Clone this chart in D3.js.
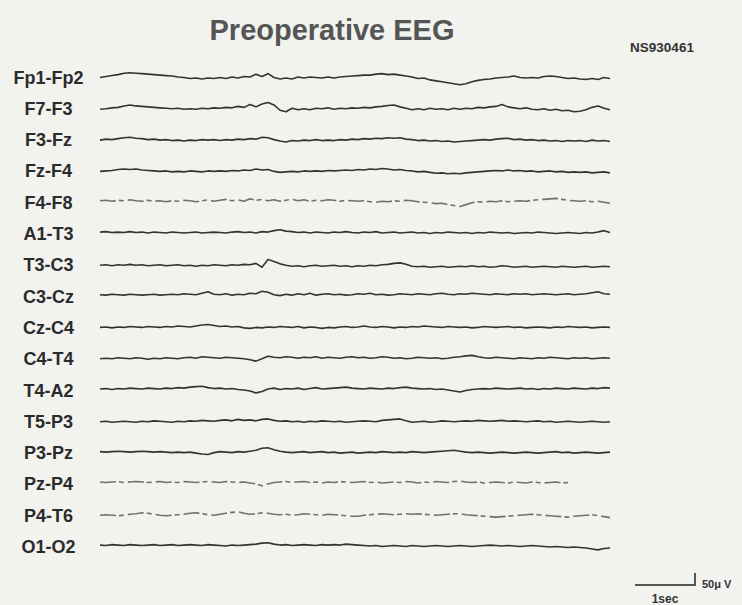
<!DOCTYPE html>
<html>
<head>
<meta charset="utf-8">
<script src="https://cdn.jsdelivr.net/npm/d3@7"></script>
<style>
  body { margin: 0; background: #f2f2ef; }
  svg { display: block; }
</style>
</head>
<body>
<div id="chart"></div>
<script>
// channel labels, top to bottom
var channels = ["Fp1-Fp2", "F7-F3", "F3-Fz", "Fz-F4", "F4-F8", "A1-T3", "T3-C3", "C3-Cz",
                "Cz-C4", "C4-T4", "T4-A2", "T5-P3", "P3-Pz", "Pz-P4", "P4-T6", "O1-O2"];

// samples every 0.1 s, values in microvolts (up = positive)
var sampleStep = 0.1;
var duration = 8.5;

var fp1fp2 = [0,4,8,12,18,20,18,16,14,12, 10,8,6,2,0,-4,-2,-6,-2,-4, 0,-4,2,-2,4,2,14,4,16,0,
  -6,-2,-6,2,-2,2,0,-2,2,-2, 2,4,6,8,10,10,14,16,12,14, 10,6,2,-4,-2,-10,-14,-18,-22,-26,
  -30,-26,-18,-12,-8,-6,-2,0,2,6, 0,-2,0,-2,4,6,4,0,-4,-2, -6,-8,-4,-8,0,-4];
var f7f3 = [-2,0,4,6,12,16,12,10,8,6, 4,2,0,2,-2,0,-2,2,0,4, 2,6,4,10,6,18,8,20,26,16,
  -6,-12,2,-4,0,-4,2,0,4,-2, 2,0,4,2,6,4,8,10,14,16, 8,2,-4,0,-4,2,-2,0,-4,2,
  -2,2,0,6,4,8,10,18,8,4, 0,4,-2,-4,0,-6,-2,-8,-6,-12, -10,-4,6,12,2,-4];
var f3fz = [0,4,2,6,10,12,8,6,2,4, 0,2,-2,0,-4,0,-2,2,0,2, -2,2,0,4,2,6,4,12,10,2,
  -4,-8,-2,-4,0,-2,2,-2,0,-2, 2,0,4,2,6,4,8,6,10,8, 10,4,2,-2,0,-4,-2,-6,-4,-8,
  -6,-4,-2,0,2,0,4,6,8,2, 4,0,2,-2,0,-4,-2,-6,-2,-4, -2,-6,0,-4,-2,-6];
var fzf4 = [0,2,4,8,10,8,10,6,4,2, 0,2,-2,0,-2,2,0,-2,2,0, 2,0,4,2,6,4,10,6,8,0,
  -4,-2,0,-2,2,0,2,0,4,2, 4,6,4,8,6,10,8,12,10,6, 8,4,2,-2,0,-4,-8,-6,-10,-8,
  -10,-6,-4,-2,0,2,4,2,6,2, 4,0,2,-2,0,2,-2,0,-4,-2, -4,-2,-6,-4,-2,-6];
var f4f8 = [8,10,6,10,8,12,8,6,10,6, 8,4,8,6,10,8,4,8,12,6, 10,14,8,12,6,16,10,14,8,12,
  6,10,14,8,12,6,10,8,12,10, 6,10,8,6,8,4,2,6,4,8, 6,10,8,4,2,0,-4,-2,-8,-12,
  -16,-8,0,4,2,6,4,8,4,6, 8,6,10,12,14,16,18,14,10,8, 6,8,4,6,2,-2];
var a1t3 = [8,10,6,8,6,10,6,8,4,8, 6,4,8,6,4,6,8,4,6,8, 6,4,8,10,6,8,4,10,8,14,
  18,12,10,6,8,4,8,6,4,8, 6,10,6,4,8,6,10,4,6,8, 4,6,8,4,6,2,6,4,8,6,
  4,6,2,6,4,8,6,4,6,2, 4,6,4,8,6,4,2,4,6,4, 2,6,4,8,14,6];
var t3c3 = [0,2,-2,2,0,4,0,2,-2,0, 2,-2,0,2,-2,0,-4,0,-2,2, 0,-2,2,0,4,2,8,-8,24,16,
  6,0,-4,-2,-6,-2,0,-4,-2,0, -4,-2,-6,-2,-4,0,-2,2,4,8, 10,4,-4,-6,-4,-8,-6,-4,-8,-6,
  -4,-6,-2,-6,-4,-8,-6,-2,-4,-8, -6,-4,-8,-6,-4,-6,-8,-4,-6,-8, -6,-4,-8,-6,-4,-6];
var c3cz = [8,6,10,8,6,10,8,6,8,10, 6,8,10,8,12,10,8,14,20,10, 8,12,6,10,8,14,12,22,18,8,
  4,10,6,12,8,14,6,10,12,8, 10,6,8,12,10,14,8,10,6,8, 12,10,8,12,10,8,12,14,10,8,
  12,10,14,12,10,8,12,10,8,12, 10,12,8,10,12,10,8,10,12,8, 10,12,16,20,12,10];
var czc4 = [2,4,0,4,2,6,4,2,6,4, 2,6,4,8,6,4,8,12,14,10, 6,8,4,6,0,-2,2,0,4,2,
  6,4,2,6,0,4,2,-2,2,0, 4,6,2,4,8,4,2,6,4,0, 4,2,6,4,8,6,4,2,6,4,
  2,4,0,2,6,4,2,4,6,2, 4,0,2,4,2,0,4,2,6,4, 2,4,0,2,4,2];
var c4t4 = [2,4,2,6,4,2,6,4,0,4, 2,6,4,2,6,8,4,10,8,6, 4,8,6,4,2,-2,-8,2,12,8,
  6,10,8,4,8,6,10,4,8,6, 4,8,10,6,8,4,6,10,8,4, 6,2,4,8,6,4,6,2,4,8,
  10,14,16,10,6,4,8,6,4,2, 6,4,2,6,4,8,6,4,2,6, 4,6,2,4,6,4];
var t4a2 = [6,8,4,8,6,10,8,6,10,8, 6,10,8,12,10,14,16,18,12,8, 10,6,8,4,2,-2,-10,-4,6,10,
  4,8,6,10,4,8,12,6,8,10, 12,14,10,8,6,10,8,6,10,8, 12,14,10,8,6,8,4,6,2,-2,
  -6,0,4,6,8,6,10,8,6,8, 10,6,8,4,8,6,10,8,6,10, 8,6,10,8,12,10];
var t5p3 = [0,2,-2,0,2,0,-2,2,0,4, 2,0,-2,2,0,4,2,6,4,2, 6,8,4,10,6,8,4,10,12,6,
  2,4,0,2,-2,2,0,4,2,0, 2,-2,0,2,4,2,0,6,8,10, 12,4,-2,0,2,-2,0,4,2,0,
  2,4,2,6,4,2,4,6,2,4, 2,0,2,4,0,2,-2,0,2,0, -2,0,2,0,-2,0];
var p3pz = [6,4,6,8,6,4,6,8,6,4, 6,4,2,4,2,4,0,-4,-6,2, 6,4,2,6,4,8,12,20,22,14,
  8,4,2,4,6,2,4,6,2,4, 0,2,4,0,2,4,2,6,4,2, 4,2,6,4,2,4,6,8,10,12,
  8,4,2,4,2,0,2,4,2,0, 2,4,2,0,2,4,6,2,4,0, 2,4,2,0,2,4];
var pzp4 = [10,8,10,12,8,10,12,10,8,10, 12,8,10,8,12,10,8,10,12,10, 8,12,10,8,10,6,2,-6,2,8,
  10,12,8,10,12,8,10,6,10,8, 12,10,8,10,12,8,10,6,8,10, 8,12,10,6,10,8,12,10,8,12,
  14,10,8,10,6,8,10,8,6,10, 8,6,10,8,6,8,10,6,8,null, null,null,null,null,null,null];
var p4t6 = [2,4,2,0,2,6,8,12,10,6, 2,0,2,4,6,10,12,8,4,2, 6,10,14,16,10,6,8,12,10,6,
  4,6,2,4,8,6,4,2,6,4, 2,0,-2,-2,2,4,6,8,6,4, 6,8,6,8,6,4,2,4,6,8,
  8,4,2,0,-2,-4,-6,-4,-2,0, 2,4,6,4,2,0,-2,-4,-6,-2, 0,2,4,0,-4,-8];
var o1o2 = [8,6,10,8,6,10,8,6,8,10, 6,8,10,6,8,10,8,6,10,8, 6,4,8,6,8,10,12,16,18,12,
  8,10,6,8,10,8,6,10,8,10, 8,12,10,8,6,4,6,2,4,6, 4,2,6,4,2,4,6,4,2,4,
  6,4,2,4,6,8,6,4,6,4, 2,4,6,4,2,0,2,0,-2,0, -2,-4,-8,-12,-6,-4];

var traces = [fp1fp2, f7f3, f3fz, fzf4, f4f8, a1t3, t3c3, c3cz,
              czc4, c4t4, t4a2, t5p3, p3pz, pzp4, p4t6, o1o2];

// channels printed faintly in the original
var faded = ["F4-F8", "Pz-P4", "P4-T6"];

var width = 742;
var height = 605;

var svg = d3.select("#chart").append("svg")
    .attr("width", width)
    .attr("height", height);

svg.append("rect").attr("width", width).attr("height", height).attr("fill", "#f2f2ef");

var xScale = d3.scaleLinear().domain([0, duration]).range([100, 610]);
var rowScale = d3.scalePoint().domain(channels).range([77.5, 547]);
var ampScale = d3.scaleLinear().domain([0, 50]).range([0, -12]);   // 50 uV = 12 px

var line = d3.line()
    .defined(d => d != null)
    .x((d, i) => xScale(i * sampleStep))
    .y(d => ampScale(d));

svg.append("text")
    .attr("x", 332).attr("y", 40)
    .attr("text-anchor", "middle")
    .style("font-family", "'Liberation Sans', Arial, sans-serif")
    .style("font-weight", "bold")
    .style("font-size", "29px")
    .attr("fill", "#555")
    .text("Preoperative EEG");

svg.append("text")
    .attr("x", 662).attr("y", 52)
    .attr("text-anchor", "middle")
    .style("font-family", "'Liberation Sans', Arial, sans-serif")
    .style("font-weight", "bold")
    .style("font-size", "13.5px")
    .attr("fill", "#333")
    .text("NS930461");

var rows = svg.selectAll(".row")
    .data(channels)
    .enter().append("g")
    .attr("class", "row")
    .attr("transform", d => "translate(0," + rowScale(d) + ")");

rows.append("text")
    .attr("x", 48.5).attr("y", 6)
    .attr("text-anchor", "middle")
    .style("font-family", "'Liberation Sans', Arial, sans-serif")
    .style("font-weight", "bold")
    .style("font-size", "18px")
    .attr("fill", "#2b2b2b")
    .text(d => d);

rows.append("path")
    .attr("d", (d, i) => line(traces[i]))
    .attr("fill", "none")
    .attr("stroke", d => faded.includes(d) ? "#707070" : "#333")
    .attr("stroke-width", 1.6)
    .attr("stroke-linejoin", "round")
    .attr("stroke-dasharray", d => faded.includes(d) ? "16,3,5,4" : null);

// calibration bar: 1 sec by 50 uV, left end at x = 635
var bar = svg.append("g").attr("transform", "translate(" + (635 - xScale(0)) + ",585)");
bar.append("path")
    .attr("d", "M" + xScale(0) + ",0H" + xScale(1) + "V" + ampScale(50))
    .attr("fill", "none")
    .attr("stroke", "#222")
    .attr("stroke-width", 1.5);
bar.append("text")
    .attr("x", xScale(1) + 7).attr("y", 3)
    .style("font-family", "'Liberation Sans', Arial, sans-serif")
    .style("font-weight", "bold")
    .style("font-size", "11px")
    .attr("fill", "#333")
    .text("50\u03bc V");
bar.append("text")
    .attr("x", xScale(0.5)).attr("y", 18)
    .attr("text-anchor", "middle")
    .style("font-family", "'Liberation Sans', Arial, sans-serif")
    .style("font-weight", "bold")
    .style("font-size", "12px")
    .attr("fill", "#333")
    .text("1sec");
</script>
</body>
</html>
